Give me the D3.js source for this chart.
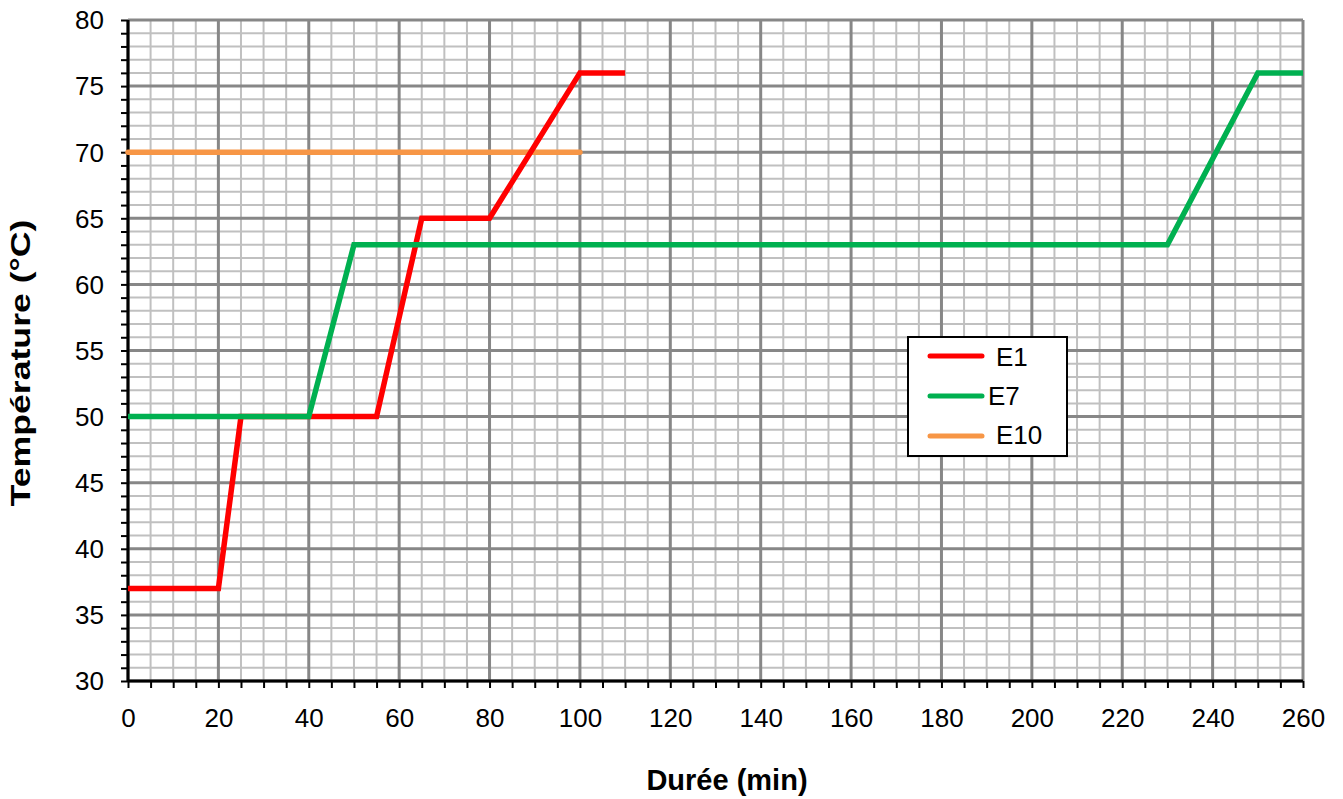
<!DOCTYPE html>
<html><head><meta charset="utf-8">
<script src="https://cdn.jsdelivr.net/npm/d3@7"></script>
<style>body{margin:0;background:#fff;} text{font-family:Arial,"Liberation Sans",sans-serif;}</style>
</head><body>
<svg id="c" width="1343" height="799"></svg>
<script>
const seriesNames = ["E1","E7","E10"];
const seriesColors = ["#ff0000","#00b050","#f79646"];
const e1X = [0,20,25,55,65,80,100,110];
const e1Y = [37,37,50,50,65,65,76,76];
const e7X = [0,40,50,230,250,260];
const e7Y = [50,50,63,63,76,76];
const e10X = [0,100];
const e10Y = [70,70];
const xTicks = d3.range(0,261,20);
const yTicks = d3.range(30,81,5);

const svg = d3.select("#c");
const L=128,R=1303,T=20,B=681;
const x = d3.scaleLinear().domain([0,260]).range([L,R]);
const y = d3.scaleLinear().domain([30,80]).range([B,T]);

// grid
const g = svg.append("g");
d3.range(0,261,5).filter(v=>v%20!==0).forEach(v=>{
  g.append("line").attr("x1",x(v)).attr("x2",x(v)).attr("y1",T).attr("y2",B).attr("stroke","#c0c0c0").attr("stroke-width",2);
});
d3.range(30,81,1).filter(v=>v%5!==0).forEach(v=>{
  g.append("line").attr("x1",L).attr("x2",R).attr("y1",y(v)).attr("y2",y(v)).attr("stroke","#c0c0c0").attr("stroke-width",2);
});
xTicks.forEach(v=>{
  g.append("line").attr("x1",x(v)).attr("x2",x(v)).attr("y1",T).attr("y2",B).attr("stroke","#878787").attr("stroke-width",3);
});
yTicks.forEach(v=>{
  g.append("line").attr("x1",L).attr("x2",R).attr("y1",y(v)).attr("y2",y(v)).attr("stroke","#878787").attr("stroke-width",3);
});

// axes
const xAxis = d3.axisBottom(x).tickValues(d3.range(0,261,5)).tickSize(7).tickFormat(d=>d%20===0?d:"");
const yAxis = d3.axisLeft(y).tickValues(d3.range(30,81,1)).tickSize(7).tickFormat(d=>d%5===0?d:"");
const xa = svg.append("g").attr("transform",`translate(0,${B})`).call(xAxis);
const ya = svg.append("g").attr("transform",`translate(${L},0)`).call(yAxis);
[xa,ya].forEach(a=>{
  a.attr("font-size",26).attr("font-family","Arial, Liberation Sans, sans-serif");
  a.select(".domain").attr("stroke","#000").attr("stroke-width",3);
  a.selectAll(".tick line").attr("stroke","#000").attr("stroke-width",2);
  a.selectAll(".tick text").attr("font-size",26).attr("fill","#000");
});
xa.select(".domain").attr("d",`M${L},0H${R}`);
ya.select(".domain").attr("d",`M0,${B}V${T}`);
xa.selectAll(".tick text").attr("dy",null).attr("y",46);
ya.selectAll(".tick text").attr("x",-24).attr("dy","0.34em");

// lines (drawing order: E10, E1, E7)
const data = [[e1X,e1Y],[e7X,e7Y],[e10X,e10Y]];
const order = [2,0,1];
const line = d3.line().x(d=>x(d[0])).y(d=>y(d[1]));
order.forEach(i=>{
  const s = data[i];
  const pts = s[0].map((v,j)=>[v,s[1][j]]);
  svg.append("path").datum(pts).attr("d",line).attr("fill","none")
    .attr("stroke",seriesColors[i]).attr("stroke-width",5.5).attr("stroke-linejoin","miter")
    .attr("stroke-linecap", i===2 ? "round" : "butt");
});

// titles
svg.append("text").attr("x",727).attr("y",790).attr("text-anchor","middle")
  .attr("font-size",29).attr("font-weight","bold").text("Durée (min)");
svg.append("text").attr("transform","translate(30,363) rotate(-90)").attr("text-anchor","middle")
  .attr("font-size",28).attr("font-weight","bold")
  .attr("textLength",287).attr("lengthAdjust","spacingAndGlyphs").text("Température (°C)");

// legend
const lg = svg.append("g");
lg.append("rect").attr("x",908).attr("y",337).attr("width",159).attr("height",119)
  .attr("fill","#fff").attr("stroke","#000").attr("stroke-width",2);
const lgY=[356,396,436], lgTx=[996,988,996], lgBase=[366,405,444];
seriesNames.forEach((n,i)=>{
  lg.append("line").attr("x1",930).attr("x2",982).attr("y1",lgY[i]).attr("y2",lgY[i])
    .attr("stroke",seriesColors[i]).attr("stroke-width",5).attr("stroke-linecap","round");
  lg.append("text").attr("x",lgTx[i]).attr("y",lgBase[i]).attr("font-size",26).text(n);
});
</script>
</body></html>
